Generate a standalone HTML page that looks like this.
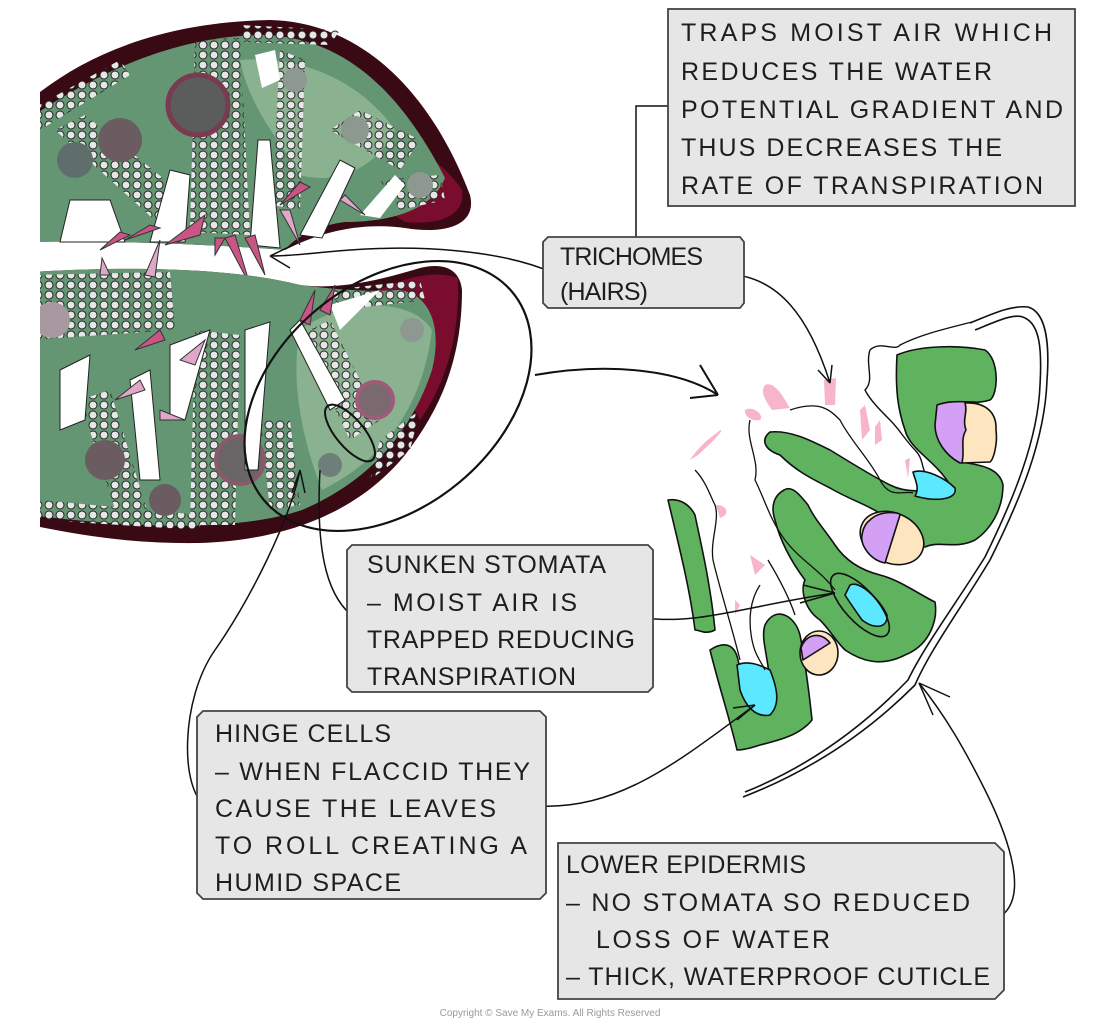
<!DOCTYPE html>
<html><head><meta charset="utf-8"><style>
html,body{margin:0;padding:0;background:#fff;}
svg{display:block;}
text{font-family:"Liberation Sans",sans-serif;font-size:25px;fill:#1e1e1e;}
</style></head><body>
<svg width="1100" height="1024" viewBox="0 0 1100 1024" xmlns="http://www.w3.org/2000/svg">
<defs>
<pattern id="dots" width="11" height="10" patternUnits="userSpaceOnUse">
<circle cx="5" cy="5" r="4" fill="#e6e6e6" stroke="#222" stroke-width="1"/>
</pattern>
<clipPath id="leftclip"><rect x="40" y="0" width="1060" height="1024"/></clipPath>
</defs>

<!-- LEFT LEAF CROSS SECTION -->
<g clip-path="url(#leftclip)">
<!-- upper half -->
<path d="M30,100 C90,50 170,22 270,20 C360,22 430,90 470,195 C478,228 440,234 405,228 C360,222 320,232 285,250 C220,245 120,240 30,242 Z" fill="#3a0a14"/>
<path d="M370,200 C380,150 420,130 462,190 C466,218 435,225 405,222 Z" fill="#7a0c2e"/>
<path d="M30,118 C100,70 180,35 265,35 C350,38 405,100 445,178 C430,215 380,222 345,222 C300,228 285,250 285,250 C220,245 120,240 30,242 Z" fill="#649673"/>
<path d="M240,60 C300,55 360,80 395,130 C375,170 335,185 300,175 C280,140 250,110 240,60 Z" fill="#8ab190"/>
<!-- vascular bands -->
<path d="M195,40 L240,38 L250,235 L190,232 Z" fill="url(#dots)"/>
<path d="M55,130 L85,115 L190,200 L160,225 Z" fill="url(#dots)"/>
<path d="M280,50 L305,60 L300,210 L272,205 Z" fill="url(#dots)"/>
<path d="M330,130 L360,110 L420,140 L400,170 Z" fill="url(#dots)"/>
<path d="M30,110 L120,60 L130,75 L40,130 Z" fill="url(#dots)"/>
<path d="M240,25 L340,30 L330,45 L240,42 Z" fill="url(#dots)"/>
<path d="M380,180 L440,175 L445,200 L400,210 Z" fill="url(#dots)"/>
<circle cx="198" cy="105" r="30" fill="#5a5d5c" stroke="#7a3a50" stroke-width="5"/>
<circle cx="120" cy="140" r="22" fill="#6a5c60"/>
<circle cx="75" cy="160" r="18" fill="#5f6e6a"/>
<circle cx="295" cy="80" r="12" fill="#8d9890"/>
<circle cx="355" cy="130" r="14" fill="#8d9890"/>
<circle cx="420" cy="185" r="13" fill="#8d9890"/>
<!-- white gaps upper -->
<path d="M150,242 L170,170 L190,175 L185,242 Z" fill="#fff" stroke="#222" stroke-width="1"/>
<path d="M250,245 L258,140 L270,140 L280,248 Z" fill="#fff" stroke="#222" stroke-width="1"/>
<path d="M60,242 L70,200 L110,200 L125,242 Z" fill="#fff" stroke="#222" stroke-width="1"/>
<path d="M300,235 L340,160 L355,168 L322,238 Z" fill="#fff" stroke="#222" stroke-width="1"/>
<path d="M255,55 L275,50 L280,80 L262,88 Z" fill="#fff"/>
<path d="M360,215 L395,175 L405,185 L380,218 Z" fill="#fff"/>
<!-- spikes -->
<g fill="#c85585" stroke="#333" stroke-width="1">
<path d="M200,235 L165,245 L205,215 Z"/>
<path d="M225,238 L250,285 L235,235 Z"/>
<path d="M245,238 L265,275 L255,235 Z"/>
<path d="M215,238 L215,255 L225,238 Z"/>
<path d="M150,225 L125,240 L160,228 Z"/>
<path d="M120,232 L100,250 L130,235 Z"/>
<path d="M280,210 L300,245 L290,210 Z" fill="#e0a8c8"/>
<path d="M340,200 L365,215 L345,195 Z" fill="#e0a8c8"/>
<path d="M300,182 L280,205 L310,187 Z"/>
</g>
<!-- lower half -->
<path d="M30,272 C150,265 240,270 300,285 C340,290 380,280 420,268 C445,262 460,270 462,290 C462,360 440,410 405,455 C360,510 290,540 200,543 C130,544 80,535 30,525 Z" fill="#3a0a14"/>
<path d="M360,300 C390,282 430,268 458,278 C460,330 448,380 420,420 C400,380 380,340 360,300 Z" fill="#7a0c2e"/>
<path d="M30,272 C150,265 240,270 300,285 C340,290 370,292 400,290 C432,295 442,330 432,370 C412,430 372,480 302,510 C242,530 150,530 30,515 Z" fill="#649673"/>
<path d="M300,330 C340,300 410,295 432,330 C422,410 382,460 322,490 C302,440 290,380 300,330 Z" fill="#8ab190"/>
<path d="M30,275 L170,272 L175,330 L30,340 Z" fill="url(#dots)"/>
<path d="M195,330 L240,335 L235,525 L190,525 Z" fill="url(#dots)"/>
<path d="M80,400 L110,390 L150,520 L120,525 Z" fill="url(#dots)"/>
<path d="M300,335 L330,320 L380,420 L350,440 Z" fill="url(#dots)"/>
<path d="M260,420 L290,420 L300,505 L270,510 Z" fill="url(#dots)"/>
<path d="M330,290 L420,280 L425,300 L340,310 Z" fill="url(#dots)"/>
<path d="M380,440 L420,410 L410,450 L370,480 Z" fill="url(#dots)"/>
<path d="M40,500 L200,515 L200,530 L40,520 Z" fill="url(#dots)"/>
<circle cx="52" cy="320" r="18" fill="#a898a0"/>
<circle cx="240" cy="460" r="24" fill="#6a6566" stroke="#8a5a6a" stroke-width="4"/>
<circle cx="105" cy="460" r="20" fill="#6a5c60"/>
<circle cx="165" cy="500" r="16" fill="#6a5c60"/>
<circle cx="375" cy="400" r="18" fill="#7a6a70" stroke="#a05a7a" stroke-width="4"/>
<circle cx="330" cy="465" r="12" fill="#6e7e78"/>
<circle cx="412" cy="330" r="12" fill="#8d9890"/>
<!-- lower white gaps -->
<path d="M170,345 L210,330 L185,420 L170,420 Z" fill="#fff" stroke="#222" stroke-width="1"/>
<path d="M60,370 L90,355 L85,420 L60,430 Z" fill="#fff" stroke="#222" stroke-width="1"/>
<path d="M245,330 L270,322 L258,470 L245,470 Z" fill="#fff" stroke="#222" stroke-width="1"/>
<path d="M290,330 L300,320 L345,400 L330,410 Z" fill="#fff" stroke="#222" stroke-width="1"/>
<path d="M130,380 L150,370 L160,480 L140,480 Z" fill="#fff" stroke="#222" stroke-width="1"/>
<path d="M330,305 L380,290 L370,300 L340,330 Z" fill="#fff"/>
<g fill="#c85585" stroke="#333" stroke-width="1">
<path d="M145,275 L160,240 L155,277 Z" fill="#e0a8c8"/>
<path d="M100,275 L102,258 L110,275 Z" fill="#e0a8c8"/>
<path d="M160,330 L135,350 L165,340 Z"/>
<path d="M180,360 L205,340 L195,365 Z" fill="#e0a8c8"/>
<path d="M300,320 L315,290 L310,325 Z"/>
<path d="M320,310 L335,285 L330,315 Z"/>
<path d="M140,380 L115,400 L145,390 Z" fill="#e0a8c8"/>
<path d="M160,410 L185,420 L160,420 Z" fill="#e0a8c8"/>
</g>
</g>

<!-- ellipses -->
<ellipse cx="388" cy="396" rx="162" ry="112" transform="rotate(-40 388 396)" fill="none" stroke="#111" stroke-width="2.2"/>
<ellipse cx="350" cy="433" rx="35" ry="14" transform="rotate(50 350 433)" fill="none" stroke="#111" stroke-width="2"/>

<!-- RIGHT ZOOMED DIAGRAM -->
<g stroke="#111" stroke-width="1.6" stroke-linejoin="round">
<path d="M970,323 C990,315 1010,305 1028,307 C1045,312 1050,340 1047,380 C1045,440 1020,500 990,560 C960,610 930,650 915,685 C860,740 800,775 743,797" fill="none"/>
<path d="M975,330 C995,322 1015,312 1025,318 C1040,325 1042,350 1040,385 C1038,440 1013,500 985,557 C955,605 925,645 908,680 C855,735 800,770 745,792" fill="none"/>
<path d="M870,350 C880,340 895,352 900,345 C920,335 940,330 972,322 M870,350 C865,365 875,380 865,390 C870,400 880,410 890,420 C900,430 905,440 915,450 C925,460 920,470 930,480" fill="none" stroke-width="1.4"/>
<path d="M897,355 C920,345 960,345 985,350 C1000,360 998,395 990,400 C975,405 960,400 945,405 C930,415 935,450 960,462 C985,465 1000,470 1003,485 C1003,510 990,530 975,540 C955,550 940,540 925,547 C910,545 900,530 890,520 C870,505 850,500 830,488 C810,478 795,470 780,455 C765,450 760,440 770,432 C790,430 810,440 830,450 C850,462 870,475 890,485 C910,495 930,490 950,485 C935,460 910,450 905,430 C898,410 895,390 897,355 Z" fill="#5fb35f"/>
<path d="M937,405 C950,400 965,402 975,402 C990,410 995,440 990,460 L960,463 C945,455 935,440 935,425 Z" fill="#d3a0f5"/>
<path d="M965,403 C985,402 997,412 996,430 C998,445 993,460 990,462 L962,463 C965,450 960,440 966,430 C962,420 968,412 965,403 Z" fill="#fde6bf"/>
<path d="M784,490 C792,485 800,495 808,505 C815,520 825,530 835,545 C845,560 860,570 880,575 C900,580 920,595 935,602 C938,620 930,645 905,655 C880,668 860,660 845,650 C835,640 830,630 820,620 C805,610 800,590 805,580 C790,560 780,540 775,520 C770,505 775,495 784,490 Z" fill="#5fb35f"/>
<path d="M668,500 C680,498 690,505 695,515 C700,540 710,580 715,630 C705,635 700,630 695,630 C690,590 680,550 668,500 Z" fill="#5fb35f"/>
<path d="M710,650 C725,640 735,645 738,660 C745,690 760,700 770,690 C770,660 760,640 765,625 C775,605 795,615 800,635 C805,660 810,700 812,720 C800,735 780,740 760,745 C745,750 740,750 737,750 C730,720 720,690 710,650 Z" fill="#5fb35f"/>
<ellipse cx="892" cy="538" rx="33" ry="25" transform="rotate(25 892 538)" fill="#fde6bf"/>
<path d="M870,520 C880,510 900,512 900,515 L885,563 C870,560 860,545 862,535 C863,528 866,523 870,520 Z" fill="#d3a0f5"/>
<ellipse cx="819" cy="653" rx="19" ry="22" fill="#fde6bf"/>
<path d="M801,648 C805,635 820,630 830,643 L803,660 Z" fill="#d3a0f5"/>
<path d="M913,472 C925,468 945,478 955,488 C958,500 935,502 915,496 C920,488 915,480 913,472 Z" fill="#5ce8ff"/>
<path d="M850,585 C860,580 880,600 887,615 C888,628 875,630 862,620 C855,610 848,600 845,595 Z" fill="#5ce8ff"/>
<path d="M737,665 C748,660 760,665 770,670 C778,690 780,705 770,715 C755,718 745,705 740,690 Z" fill="#5ce8ff"/>
<ellipse cx="860" cy="605" rx="40" ry="16" transform="rotate(48 860 605)" fill="none"/>
<g fill="#f8b4c8" stroke="none">
<path d="M765,385 C775,380 785,400 790,408 L772,410 C765,400 760,392 765,385 Z"/>
<path d="M824,380 L836,378 L835,405 L825,405 Z"/>
<path d="M745,410 C752,405 765,415 760,420 C752,422 744,416 745,410 Z"/>
<path d="M718,432 C722,428 728,428 698,455 L690,460 C700,445 710,438 718,432 Z"/>
<path d="M716,505 C728,505 730,515 720,518 Z"/>
<path d="M750,555 L765,565 L755,575 Z"/>
<path d="M860,410 L865,405 L870,430 L862,440 Z"/>
<path d="M875,427 L880,420 L882,440 L875,445 Z"/>
<path d="M905,460 L910,458 L908,478 Z"/>
<path d="M735,600 L740,605 L735,615 Z"/>
</g>
<path d="M695,470 C705,480 710,495 715,505 C720,520 710,540 713,560 C720,590 730,620 740,660" fill="none" stroke-width="1.3"/>
<path d="M750,420 C745,440 760,460 755,480 C765,500 770,520 785,540 C800,560 820,570 835,590" fill="none" stroke-width="1.3"/>
<path d="M790,410 C820,400 830,410 840,420 C850,440 870,460 880,480 C890,500 905,490 913,493" fill="none" stroke-width="1.3"/>
<path d="M768,560 C780,580 790,600 795,615" fill="none" stroke-width="1.3"/>
<path d="M760,585 C750,600 748,620 752,640 C755,655 760,660 765,670" fill="none" stroke-width="1.3"/>
</g>

<!-- CONNECTORS -->
<g fill="none" stroke="#111" stroke-width="1.5">
<path d="M636,237 L636,106 L668,106"/>
<path d="M551,272 C500,250 420,245 350,250 C320,252 295,256 270,256"/>
<path d="M270,256 L295,244 M270,256 L290,268"/>
<path d="M725,274 C780,275 810,320 830,383"/>
<path d="M830,383 L818,370 M830,383 L832,365"/>
<path d="M535,375 C610,362 680,370 718,395" stroke-width="2"/>
<path d="M718,395 L700,365 M718,395 L690,398" stroke-width="2"/>
<path d="M355,618 C330,600 315,560 320,470"/>
<path d="M644,618 C700,625 750,605 835,593"/>
<path d="M835,593 L803,585 M835,593 L800,603"/>
<path d="M206,806 C180,790 180,700 215,650 C250,600 290,520 300,470"/>
<path d="M300,470 L292,493 M300,470 L305,493"/>
<path d="M538,806 C620,810 680,760 755,705"/>
<path d="M755,705 L733,708 M755,705 L737,720"/>
<path d="M998,918 C1030,900 1010,840 985,790 C965,750 945,715 919,683"/>
<path d="M919,683 L950,697 M919,683 L933,715"/>
</g>
<g fill="#fff" stroke="#222" stroke-width="1.2">
<circle cx="551" cy="272" r="3"/><circle cx="725" cy="274" r="3"/>
<circle cx="355" cy="618" r="3"/><circle cx="644" cy="618" r="3"/>
<circle cx="206" cy="806" r="3"/><circle cx="538" cy="806" r="3"/>
<circle cx="998" cy="918" r="3"/>
</g>

<!-- BOXES -->
<g fill="#e6e6e6" stroke="#444" stroke-width="1.8">
<rect x="668" y="9" width="407" height="197"/>
<path d="M548,237 L740,237 L744,242 L744,303 L740,308 L548,308 L543,303 L543,242 Z"/>
<path d="M352,545 L648,545 L653,550 L653,687 L648,692 L352,692 L347,687 L347,550 Z"/>
<path d="M203,711 L540,711 L546,717 L546,893 L540,899 L203,899 L197,893 L197,717 Z"/>
<path d="M558,843 L995,843 L1004,852 L1004,990 L995,999 L558,999 Z"/>
</g>
<g>
<text x="681" y="41" textLength="371" lengthAdjust="spacing">TRAPS MOIST AIR WHICH</text>
<text x="681" y="80" textLength="311" lengthAdjust="spacing">REDUCES THE WATER</text>
<text x="681" y="118" textLength="382" lengthAdjust="spacing">POTENTIAL GRADIENT AND</text>
<text x="681" y="156" textLength="321" lengthAdjust="spacing">THUS DECREASES THE</text>
<text x="681" y="194" textLength="362" lengthAdjust="spacing">RATE OF TRANSPIRATION</text>
<text x="560" y="265" textLength="143" lengthAdjust="spacing">TRICHOMES</text>
<text x="560" y="300" textLength="88" lengthAdjust="spacing">(HAIRS)</text>
<text x="367" y="573" textLength="239" lengthAdjust="spacing">SUNKEN STOMATA</text>
<text x="367" y="611" textLength="210" lengthAdjust="spacing">– MOIST AIR IS</text>
<text x="367" y="648" textLength="268" lengthAdjust="spacing">TRAPPED REDUCING</text>
<text x="367" y="685" textLength="209" lengthAdjust="spacing">TRANSPIRATION</text>
<text x="215" y="742" textLength="176" lengthAdjust="spacing">HINGE CELLS</text>
<text x="215" y="780" textLength="315" lengthAdjust="spacing">– WHEN FLACCID THEY</text>
<text x="215" y="817" textLength="281" lengthAdjust="spacing">CAUSE THE LEAVES</text>
<text x="215" y="854" textLength="312" lengthAdjust="spacing">TO ROLL CREATING A</text>
<text x="215" y="891" textLength="186" lengthAdjust="spacing">HUMID SPACE</text>
<text x="566" y="873" textLength="240" lengthAdjust="spacing">LOWER EPIDERMIS</text>
<text x="566" y="911" textLength="404" lengthAdjust="spacing">– NO STOMATA SO REDUCED</text>
<text x="596" y="948" textLength="234" lengthAdjust="spacing">LOSS OF WATER</text>
<text x="566" y="985" textLength="424" lengthAdjust="spacing">– THICK, WATERPROOF CUTICLE</text>
</g>
<text x="550" y="1016" text-anchor="middle" style="font-size:10px;fill:#999;">Copyright © Save My Exams. All Rights Reserved</text>
</svg>
</body></html>
